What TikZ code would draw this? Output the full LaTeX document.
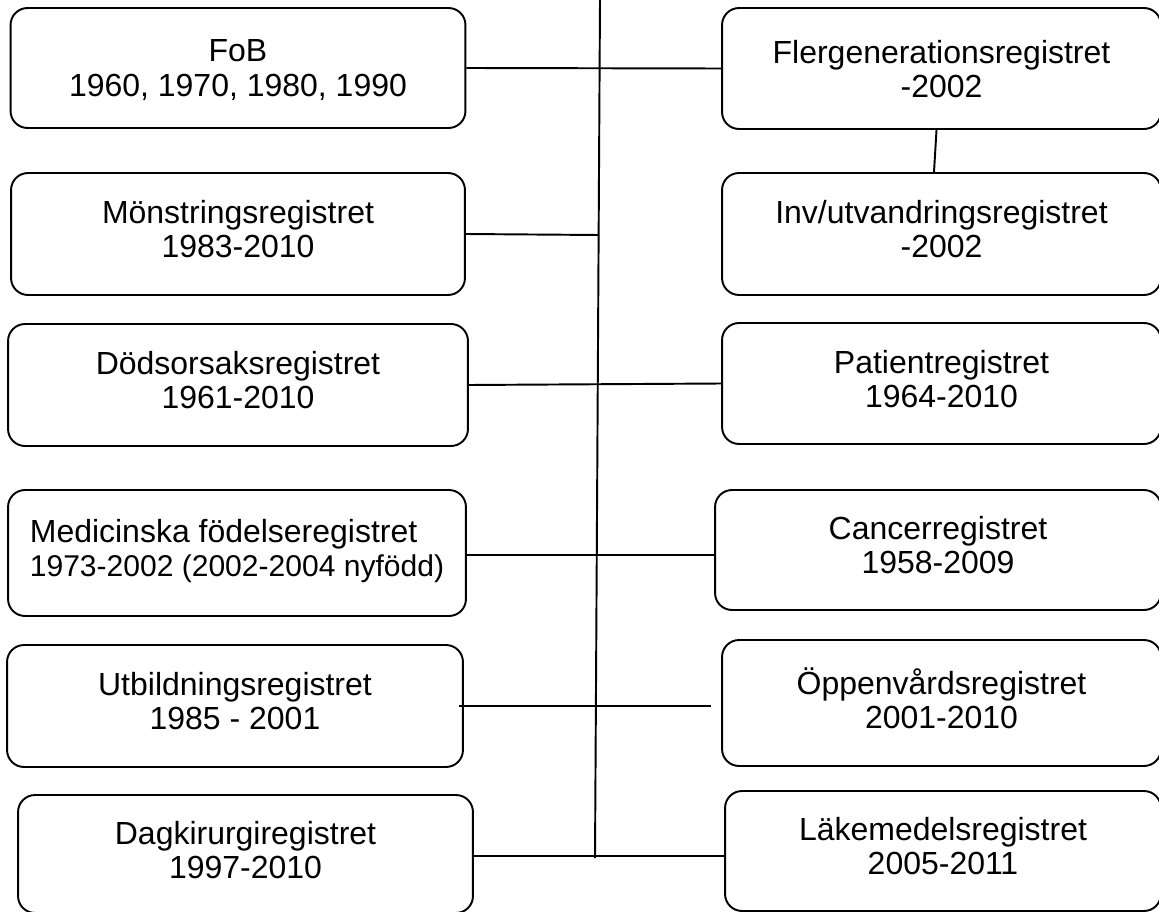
\documentclass[tikz,border=0pt]{standalone}
\usepackage{fontspec}
\setmainfont{Liberation Sans}
\begin{document}
\begin{tikzpicture}[x=0.02cm, y=-0.02cm, line width=1.1pt,
  reg/.style={draw, rounded corners=0.34cm, align=center, inner sep=0pt,
    text depth=0.2cm, font=\fontsize{18.2}{19.4}\selectfont}]
\useasboundingbox (0,0) rectangle (1159,912);

% left column
\node[reg, text depth=0cm, minimum width=9.1cm, minimum height=2.4cm] (fob) at (238,68) {FoB\\1960, 1970, 1980, 1990};
\node[reg, minimum width=9.08cm, minimum height=2.44cm] (monst) at (238,234) {Mönstringsregistret\\1983-2010};
\node[reg, minimum width=9.2cm, minimum height=2.44cm] (dods) at (238,385) {Dödsorsaksregistret\\1961-2010};
\node[reg, align=left, minimum width=9.16cm, minimum height=2.52cm] (med) at (237,553)
  {Medicinska födelseregistret\\{\fontsize{17.1}{19.4}\selectfont 1973-2002 (2002-2004 nyfödd)}};
\node[reg, minimum width=9.12cm, minimum height=2.44cm] (utb) at (235,706) {Utbildningsregistret\\1985 - 2001};
\node[reg, text depth=0.15cm, minimum width=9.1cm, minimum height=2.36cm] (dag) at (245.5,854) {Dagkirurgiregistret\\1997-2010};

% right column
\node[reg, text depth=0cm, minimum width=8.78cm, minimum height=2.42cm] (fler) at (941.5,68.5) {Flergenerationsregistret\\-2002};
\node[reg, minimum width=8.78cm, minimum height=2.44cm] (inv) at (941.5,234) {Inv/utvandringsregistret\\-2002};
\node[reg, minimum width=8.78cm, minimum height=2.42cm] (pat) at (941.5,383.5) {Patientregistret\\1964-2010};
\node[reg, minimum width=8.92cm, minimum height=2.4cm] (canc) at (938,550) {Cancerregistret\\1958-2009};
\node[reg, minimum width=8.78cm, minimum height=2.52cm] (opp) at (941.5,703) {Öppenvårdsregistret\\2001-2010};
\node[reg, minimum width=8.72cm, minimum height=2.4cm] (lak) at (943,851) {Läkemedelsregistret\\2005-2011};

% spine and links
\coordinate (spinetop) at (600,0);
\coordinate (spinebot) at (595,858);
\coordinate (m) at (599,235);
\draw (spinetop) -- (spinebot);
\draw (fob.east) -- (fler.west);
\draw (monst.east) -- (m);
\draw (dods.east) -- (pat.west);
\draw (med.east |- 0,555) -- (canc.west |- 0,555);
\draw ([xshift=-0.1cm]utb.east |- 0,706) -- ([xshift=-0.2cm]opp.west |- 0,706);
\draw (dag.east |- 0,856) -- (lak.west |- 0,856);
\draw ([xshift=-0.1cm]fler.south) -- ([xshift=-0.15cm]inv.north);

\end{tikzpicture}
\end{document}
